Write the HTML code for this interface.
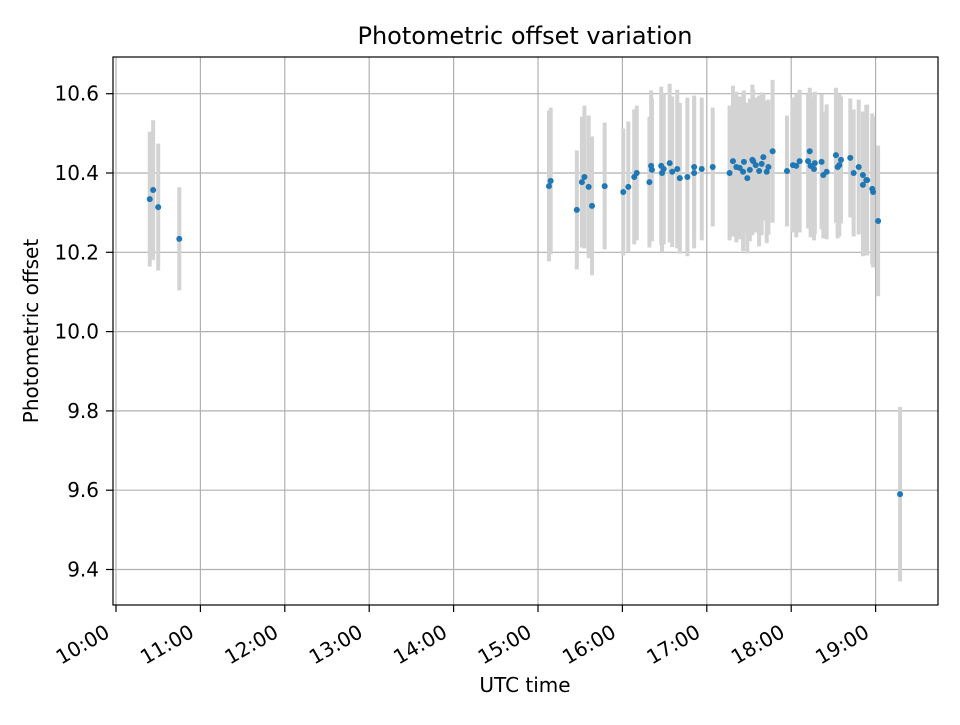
<!DOCTYPE html>
<html><head><meta charset="utf-8"><style>
body{margin:0;background:#fff}
text{font-family:"DejaVu Sans","Liberation Sans",sans-serif;fill:#000}
</style></head><body>
<svg id="chart" width="960" height="720" xmlns="http://www.w3.org/2000/svg">
<rect width="960" height="720" fill="#fff"/>
<g id="grid"></g>
<g id="bars"></g>
<g id="pts"></g>
<rect x="113" y="57" width="825" height="548" fill="none" stroke="#000" stroke-width="1.2"/>
<g id="axes"></g>
<text x="525" y="44" font-size="24" text-anchor="middle">Photometric offset variation</text>
<text x="525" y="692" font-size="20" text-anchor="middle">UTC time</text>
<text transform="translate(38,331) rotate(-90)" font-size="20" text-anchor="middle">Photometric offset</text>
</svg>
<script>
const times=[10.40,10.44,10.50,10.75,15.13,15.15,15.46,15.52,15.55,15.60,15.64,15.79,16.01,16.07,16.14,16.17,16.32,16.34,16.35,16.46,16.47,16.49,16.56,16.59,16.65,16.68,16.77,16.85,16.85,16.94,17.07,17.27,17.31,17.35,17.39,17.43,17.44,17.48,17.51,17.54,17.55,17.58,17.62,17.65,17.67,17.71,17.73,17.78,17.95,18.02,18.06,18.10,18.20,18.22,18.23,18.27,18.28,18.36,18.38,18.42,18.53,18.55,18.57,18.59,18.70,18.74,18.80,18.85,18.85,18.89,18.90,18.96,18.97,19.03,19.29];
const values=[10.334,10.357,10.314,10.234,10.367,10.380,10.307,10.377,10.390,10.365,10.317,10.367,10.352,10.365,10.390,10.400,10.377,10.418,10.408,10.418,10.400,10.410,10.425,10.403,10.410,10.387,10.390,10.415,10.400,10.410,10.415,10.400,10.430,10.415,10.413,10.403,10.428,10.387,10.408,10.433,10.430,10.420,10.405,10.423,10.440,10.403,10.415,10.455,10.405,10.420,10.418,10.430,10.430,10.455,10.418,10.410,10.425,10.428,10.395,10.403,10.445,10.415,10.420,10.433,10.438,10.400,10.415,10.395,10.370,10.382,10.382,10.360,10.352,10.279,9.590];
const errors=[0.17,0.176,0.16,0.13,0.19,0.185,0.15,0.165,0.18,0.18,0.175,0.16,0.16,0.165,0.17,0.17,0.165,0.19,0.18,0.2,0.2,0.19,0.2,0.19,0.2,0.19,0.2,0.18,0.19,0.18,0.15,0.17,0.19,0.19,0.18,0.2,0.18,0.19,0.18,0.19,0.18,0.17,0.19,0.18,0.16,0.18,0.17,0.18,0.14,0.17,0.18,0.18,0.17,0.16,0.18,0.18,0.18,0.17,0.16,0.17,0.17,0.18,0.18,0.16,0.15,0.16,0.17,0.16,0.18,0.19,0.19,0.19,0.19,0.19,0.22];
const yTicks=[9.4,9.6,9.8,10.0,10.2,10.4,10.6];
const xTicks=[10,11,12,13,14,15,16,17,18,19];
const xTickLabels=["10:00","11:00","12:00","13:00","14:00","15:00","16:00","17:00","18:00","19:00"];
const NS="http://www.w3.org/2000/svg";
function X(h){return 116+(h-10)*84.4;}
function Y(v){return 173-(v-10.4)*396.5;}
function mk(tag,attrs,parent){const e=document.createElementNS(NS,tag);for(const k in attrs)e.setAttribute(k,attrs[k]);parent.appendChild(e);return e;}
const grid=document.getElementById('grid'),axes=document.getElementById('axes'),bars=document.getElementById('bars'),pts=document.getElementById('pts');
yTicks.forEach(v=>{const y=Y(v);
 const g=mk('line',{x1:113,x2:938,y1:y,y2:y,stroke:'#b0b0b0','stroke-width':1.2},grid);
 
 
 const t=mk('line',{x1:106,x2:113,y1:y,y2:y,stroke:'#000','stroke-width':1.2},axes);
 
 
 const l=mk('text',{x:99,y:y+7,'font-size':20,'text-anchor':'end'},axes);
 
 
 l.textContent=v.toFixed(1);
});
xTicks.forEach((h,i)=>{const x=X(h);
 const g=mk('line',{x1:x,x2:x,y1:57,y2:605,stroke:'#b0b0b0','stroke-width':1.2},grid);
 
 
 const t=mk('line',{x1:x,x2:x,y1:605,y2:612,stroke:'#000','stroke-width':1.2},axes);
 
 
 const l=mk('text',{transform:`translate(${x-5},${636}) rotate(-30)`,'font-size':20,'text-anchor':'end'},axes);
 
 
 l.textContent=xTickLabels[i];
});
times.forEach((h,i)=>{const x=X(h);
 const b=mk('line',{x1:x,x2:x,y1:Y(values[i]+errors[i]),y2:Y(values[i]-errors[i]),stroke:'#d3d3d3','stroke-width':4},bars);
 
 
 const c=mk('circle',{cx:x,cy:Y(values[i]),r:3,fill:'#1f77b4'},pts);
 
 
});
</script>
</body></html>
